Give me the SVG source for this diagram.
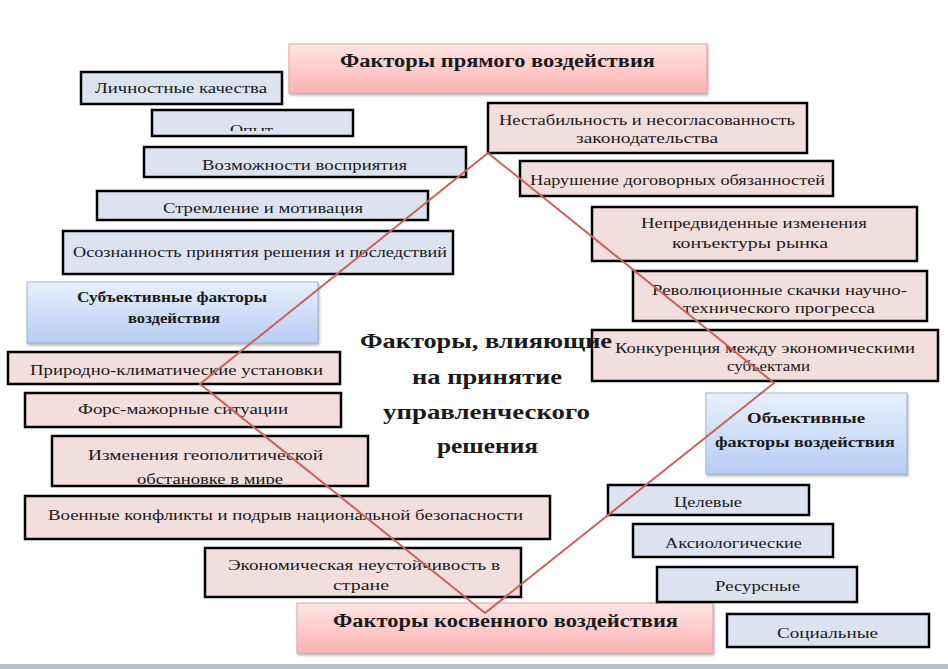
<svg xmlns="http://www.w3.org/2000/svg" width="948" height="669" viewBox="0 0 948 669" font-family="'Liberation Serif', 'DejaVu Serif', serif">
<defs>
<linearGradient id="gPink" x1="0" y1="0" x2="0" y2="1">
<stop offset="0" stop-color="#fde6e6"/>
<stop offset="1" stop-color="#ffb2b2"/>
</linearGradient>
<linearGradient id="gBlue" x1="0" y1="0" x2="0" y2="1">
<stop offset="0" stop-color="#e8effb"/>
<stop offset="1" stop-color="#b6cdf4"/>
</linearGradient>
<filter id="sh" x="-5%" y="-10%" width="110%" height="130%">
<feDropShadow dx="1" dy="2" stdDeviation="1.2" flood-color="#888" flood-opacity="0.6"/>
</filter>
<clipPath id="cOpyt"><rect x="152" y="110" width="201" height="21"/></clipPath>
<clipPath id="cGeo"><rect x="52" y="436" width="316" height="48"/></clipPath>
</defs>
<style>
text{font-family:'Liberation Serif','DejaVu Serif',serif;fill:#1a1a1a;}
.s{font-size:15px;}
.b{font-weight:bold;}
.h{font-size:18px;font-weight:bold;}
.c{font-size:22px;font-weight:bold;}
.bl rect{fill:#dce3ee;stroke:#000;stroke-width:2.5;}
.pk rect{fill:#f2dedd;stroke:#000;stroke-width:2.5;}
.hd rect{fill:url(#gPink);stroke:#e0a0a0;stroke-width:1;filter:url(#sh);}
.gb rect{fill:url(#gBlue);stroke:#9fb4d6;stroke-width:1;filter:url(#sh);}
.dia{fill:none;stroke:#c9625f;stroke-width:2;}
</style>
<rect x="0" y="0" width="948" height="669" fill="#fff"/>
<rect x="0" y="664" width="948" height="5" fill="#b9bfc7"/>

<g id="hdr-direct" class="hd"><rect x="289" y="44" width="418" height="49"/><text class="h" x="340" y="67" textLength="315" lengthAdjust="spacingAndGlyphs">Факторы прямого воздействия</text></g>

<g id="n-lichn" class="bl"><rect x="81" y="72" width="201" height="32"/><text class="s" x="95" y="93" textLength="172" lengthAdjust="spacingAndGlyphs">Личностные качества</text></g>
<g id="n-opyt" class="bl"><rect x="152" y="110" width="201" height="26"/><text class="s" x="230" y="135" textLength="43" lengthAdjust="spacingAndGlyphs" clip-path="url(#cOpyt)">Опыт</text></g>
<g id="n-vozm" class="bl"><rect x="144" y="147" width="322" height="30"/><text class="s" x="202" y="170" textLength="205" lengthAdjust="spacingAndGlyphs">Возможности восприятия</text></g>
<g id="n-strem" class="bl"><rect x="97" y="191" width="331" height="29"/><text class="s" x="163" y="213" textLength="200" lengthAdjust="spacingAndGlyphs">Стремление и мотивация</text></g>
<g id="n-osozn" class="bl"><rect x="63" y="231" width="390" height="43"/><text class="s" x="73" y="257" textLength="374" lengthAdjust="spacingAndGlyphs">Осознанность принятия решения и последствий</text></g>

<g id="n-subj" class="gb"><rect x="27" y="282" width="291" height="61"/><text class="s b" x="77" y="302" textLength="190" lengthAdjust="spacingAndGlyphs">Субъективные факторы</text><text class="s b" x="128" y="323" textLength="92" lengthAdjust="spacingAndGlyphs">воздействия</text></g>

<g id="n-prir" class="pk"><rect x="8" y="352" width="332" height="32"/><text class="s" x="30" y="375" textLength="293" lengthAdjust="spacingAndGlyphs">Природно-климатические установки</text></g>
<g id="n-fors" class="pk"><rect x="25" y="393" width="316" height="34"/><text class="s" x="78" y="414" textLength="210" lengthAdjust="spacingAndGlyphs">Форс-мажорные ситуации</text></g>
<g id="n-geo" class="pk"><rect x="52" y="436" width="316" height="50"/><text class="s" x="88" y="460" textLength="235" lengthAdjust="spacingAndGlyphs">Изменения геополитической</text><text class="s" x="137" y="484" textLength="146" lengthAdjust="spacingAndGlyphs" clip-path="url(#cGeo)">обстановке в мире</text></g>
<g id="n-voen" class="pk"><rect x="25" y="496" width="525" height="43"/><text class="s" x="48" y="520" textLength="475" lengthAdjust="spacingAndGlyphs">Военные конфликты и подрыв национальной безопасности</text></g>
<g id="n-ekon" class="pk"><rect x="205" y="548" width="316" height="49"/><text class="s" x="228" y="570" textLength="272" lengthAdjust="spacingAndGlyphs">Экономическая неустойчивость в</text><text class="s" x="333" y="590" textLength="56" lengthAdjust="spacingAndGlyphs">стране</text></g>

<g id="hdr-indirect" class="hd"><rect x="297" y="603" width="416" height="50"/><text class="h" x="333" y="627" textLength="345" lengthAdjust="spacingAndGlyphs">Факторы косвенного воздействия</text></g>

<g id="n-nestab" class="pk"><rect x="488" y="103" width="319" height="50"/><text class="s" x="499" y="125" textLength="296" lengthAdjust="spacingAndGlyphs">Нестабильность и несогласованность</text><text class="s" x="576" y="143" textLength="142" lengthAdjust="spacingAndGlyphs">законодательства</text></g>
<g id="n-narush" class="pk"><rect x="520" y="161" width="313" height="35"/><text class="s" x="530" y="185" textLength="295" lengthAdjust="spacingAndGlyphs">Нарушение договорных обязанностей</text></g>
<g id="n-nepred" class="pk"><rect x="592" y="207" width="325" height="54"/><text class="s" x="641" y="228" textLength="226" lengthAdjust="spacingAndGlyphs">Непредвиденные изменения</text><text class="s" x="672" y="248" textLength="156" lengthAdjust="spacingAndGlyphs">конъектуры рынка</text></g>
<g id="n-revol" class="pk"><rect x="633" y="271" width="294" height="50"/><text class="s" x="652" y="295" textLength="255" lengthAdjust="spacingAndGlyphs">Революционные скачки научно-</text><text class="s" x="683" y="313" textLength="192" lengthAdjust="spacingAndGlyphs">технического прогресса</text></g>
<g id="n-konk" class="pk"><rect x="592" y="330" width="346" height="51"/><text class="s" x="615" y="353" textLength="300" lengthAdjust="spacingAndGlyphs">Конкуренция между экономическими</text><text class="s" x="727" y="371" textLength="83" lengthAdjust="spacingAndGlyphs">субъектами</text></g>

<g id="n-obj" class="gb"><rect x="706" y="393" width="201" height="81"/><text class="s b" x="747" y="423" textLength="118" lengthAdjust="spacingAndGlyphs">Объективные</text><text class="s b" x="715" y="447" textLength="180" lengthAdjust="spacingAndGlyphs">факторы воздействия</text></g>

<g id="n-celev" class="bl"><rect x="608" y="485" width="201" height="30"/><text class="s" x="674" y="507" textLength="68" lengthAdjust="spacingAndGlyphs">Целевые</text></g>
<g id="n-aks" class="bl"><rect x="633" y="524" width="200" height="33"/><text class="s" x="665" y="548" textLength="137" lengthAdjust="spacingAndGlyphs">Аксиологические</text></g>
<g id="n-res" class="bl"><rect x="657" y="567" width="200" height="35"/><text class="s" x="715" y="591" textLength="85" lengthAdjust="spacingAndGlyphs">Ресурсные</text></g>
<g id="n-soc" class="bl"><rect x="727" y="614" width="202" height="33"/><text class="s" x="777" y="638" textLength="101" lengthAdjust="spacingAndGlyphs">Социальные</text></g>

<g id="connectors">
<polygon class="dia" points="488,153 774,383 485,613 200,384"/>
</g>

<g id="center">
<text class="c" x="360" y="348" textLength="252" lengthAdjust="spacingAndGlyphs">Факторы, влияющие</text>
<text class="c" x="412" y="384" textLength="150" lengthAdjust="spacingAndGlyphs">на принятие</text>
<text class="c" x="383" y="419" textLength="207" lengthAdjust="spacingAndGlyphs">управленческого</text>
<text class="c" x="437" y="453" textLength="101" lengthAdjust="spacingAndGlyphs">решения</text>
</g>
</svg>
